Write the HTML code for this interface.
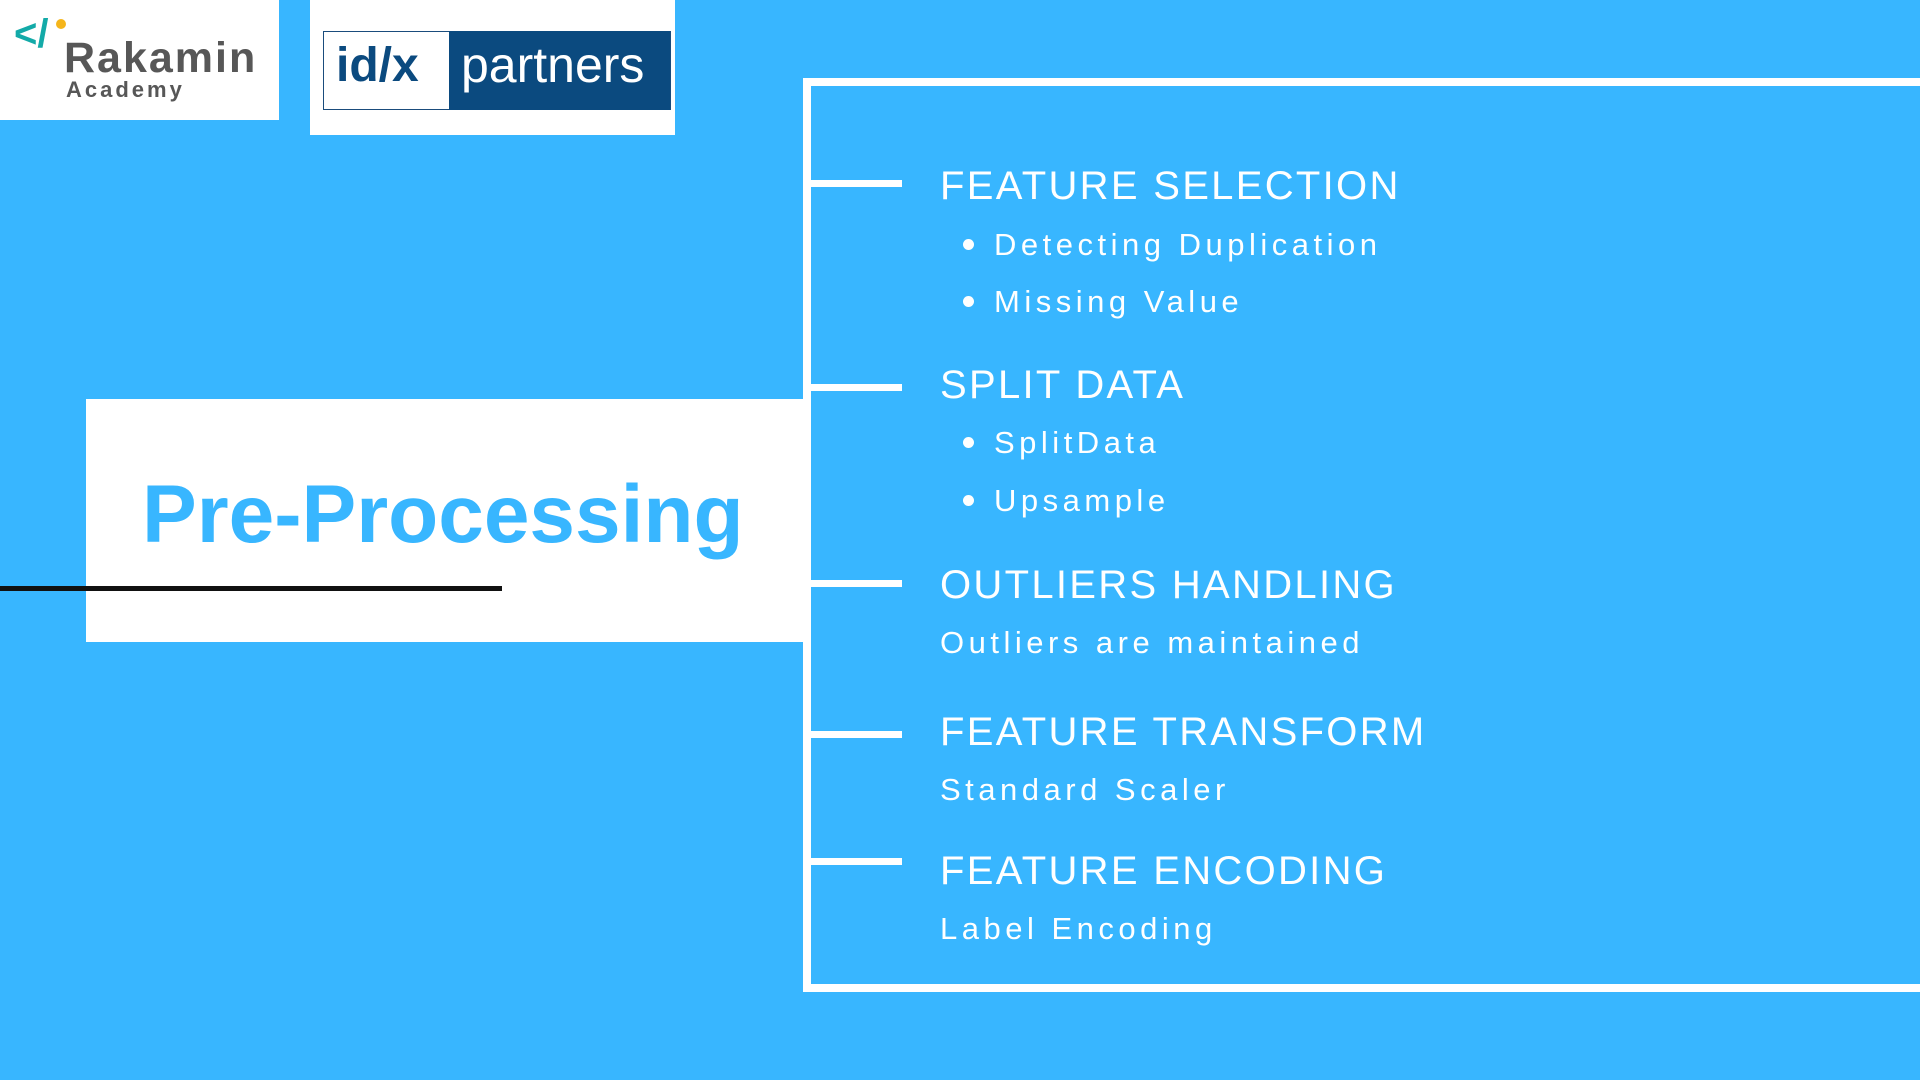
<!DOCTYPE html>
<html><head><meta charset="utf-8"><style>
html,body{margin:0;padding:0}
body{width:1920px;height:1080px;background:#38b6ff;position:relative;overflow:hidden;font-family:"Liberation Sans",sans-serif}
.a{position:absolute}
.h{position:absolute;left:940px;color:#fff;font-size:40px;line-height:40px;letter-spacing:2.3px;white-space:nowrap}
.s{position:absolute;color:#fff;font-size:31px;line-height:31px;letter-spacing:4.5px;white-space:nowrap}
.b{position:absolute;left:963px;width:11px;height:11px;border-radius:50%;background:#fff}
.t{position:absolute;left:811px;width:91px;height:7px;background:#fff}
</style></head><body>
<div class="a" style="left:0;top:0;width:279px;height:120px;background:#fff"></div>
<div class="a" style="left:14px;top:14px;font-size:40px;font-weight:bold;color:#13aaa8;line-height:40px">&lt;/</div>
<div class="a" style="left:56px;top:19px;width:10px;height:10px;border-radius:50%;background:#f5b51b"></div>
<div class="a" style="left:64px;top:37px;font-size:43px;font-weight:bold;color:#575757;line-height:43px;letter-spacing:2px">Rakamin</div>
<div class="a" style="left:66px;top:79px;font-size:22px;font-weight:bold;color:#575757;line-height:22px;letter-spacing:3px">Academy</div>

<div class="a" style="left:310px;top:0;width:365px;height:135px;background:#fff"></div>
<div class="a" style="left:323px;top:31px;width:346px;height:77px;border:1px solid #1a4c7c;background:#fff"></div>
<div class="a" style="left:449px;top:31px;width:221px;height:79px;background:#0b4a7f"></div>
<div class="a" style="left:336px;top:42px;font-size:48px;font-weight:bold;color:#0b4a7f;line-height:48px">id/x</div>
<div class="a" style="left:461px;top:40px;font-size:50px;color:#fff;line-height:50px">partners</div>

<div class="a" style="left:803px;top:78px;width:1117px;height:8px;background:#fff"></div>
<div class="a" style="left:803px;top:984px;width:1117px;height:8px;background:#fff"></div>
<div class="a" style="left:803px;top:78px;width:8px;height:914px;background:#fff"></div>

<div class="a" style="left:86px;top:399px;width:725px;height:243px;background:#fff"></div>
<div class="a" style="left:142px;top:474px;font-size:82px;font-weight:bold;color:#38b6ff;line-height:82px;white-space:nowrap">Pre-Processing</div>
<div class="a" style="left:0;top:586px;width:502px;height:5px;background:#111"></div>

<div class="t" style="top:180px"></div>
<div class="t" style="top:384px"></div>
<div class="t" style="top:580px"></div>
<div class="t" style="top:731px"></div>
<div class="t" style="top:858px"></div>

<div class="h" style="top:166px">FEATURE SELECTION</div>
<div class="b" style="top:239px"></div><div class="s" style="left:994px;top:229px">Detecting Duplication</div>
<div class="b" style="top:296px"></div><div class="s" style="left:994px;top:286px">Missing Value</div>

<div class="h" style="top:365px">SPLIT DATA</div>
<div class="b" style="top:437px"></div><div class="s" style="left:994px;top:427px">SplitData</div>
<div class="b" style="top:495px"></div><div class="s" style="left:994px;top:485px">Upsample</div>

<div class="h" style="top:565px">OUTLIERS HANDLING</div>
<div class="s" style="left:940px;top:627px">Outliers are maintained</div>

<div class="h" style="top:712px">FEATURE TRANSFORM</div>
<div class="s" style="left:940px;top:774px">Standard Scaler</div>

<div class="h" style="top:851px">FEATURE ENCODING</div>
<div class="s" style="left:940px;top:913px">Label Encoding</div>
</body></html>
